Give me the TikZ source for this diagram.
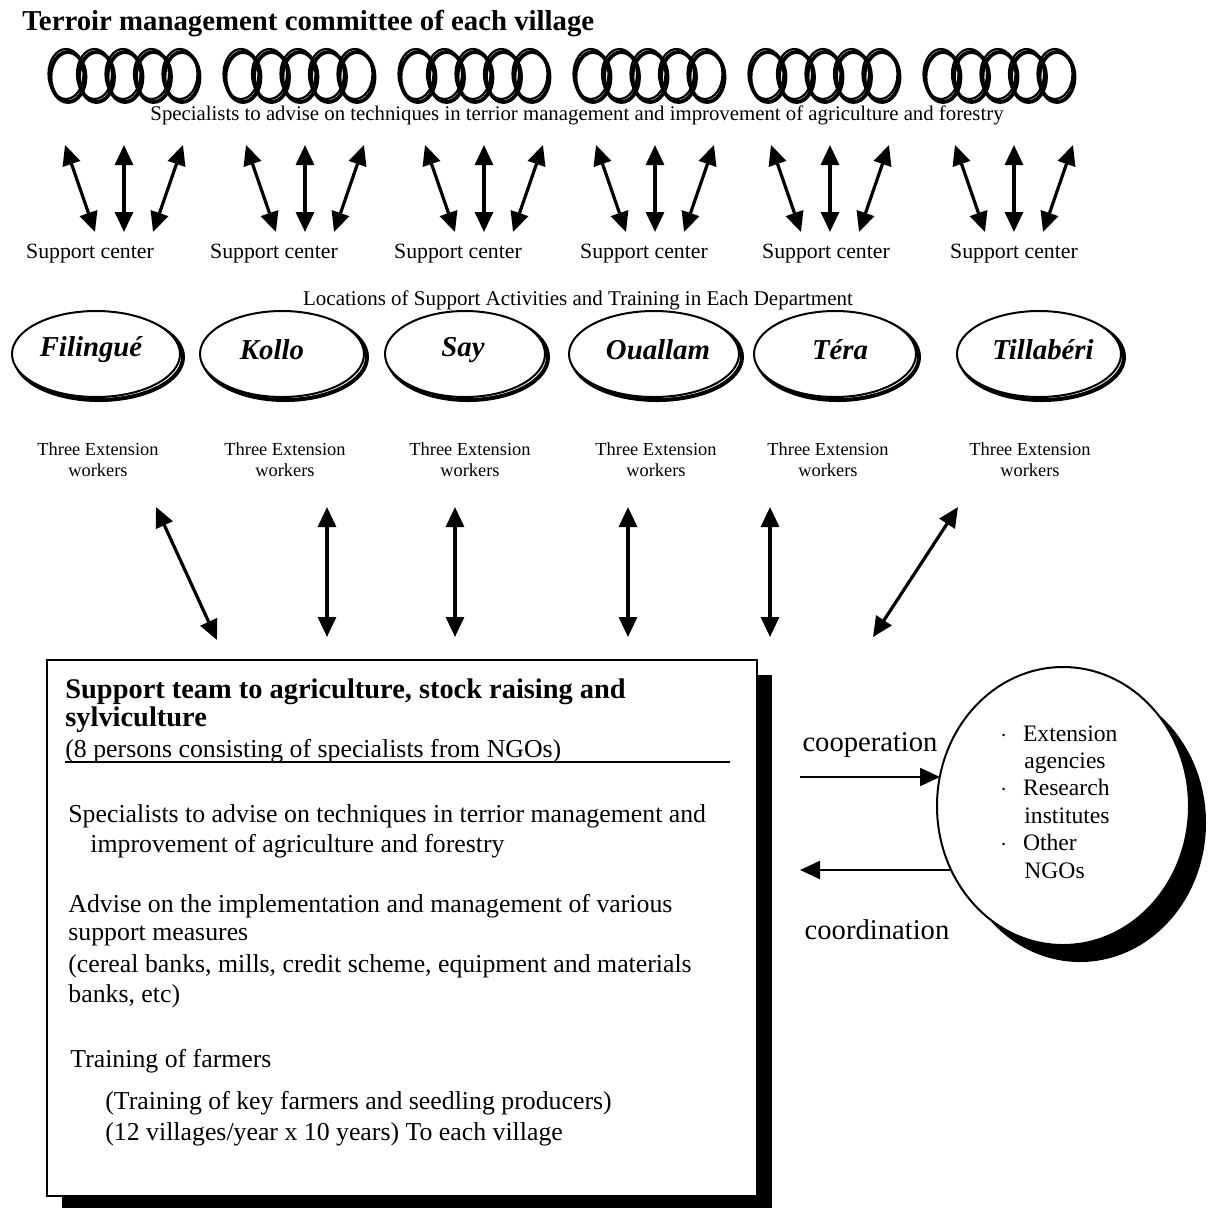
\documentclass[tikz,border=0pt]{standalone}
\usepackage{fontspec}
\setmainfont{Liberation Serif}
\usetikzlibrary{arrows.meta}
\begin{document}
\begin{tikzpicture}[x=0.5pt,y=-0.5pt,
  every node/.style={inner sep=0pt},
  txt/.style={anchor=base west,font=\fontsize{12.9}{14}\selectfont},
  btxt/.style={anchor=base west,font=\fontsize{14.2}{16}\selectfont\bfseries},
  small/.style={font=\fontsize{9.2}{10.5}\selectfont,align=center},
  dept/.style={font=\fontsize{14.4}{16}\selectfont\bfseries\itshape},
  dbl/.style={{Triangle[length=10pt,width=9pt]}-{Triangle[length=10pt,width=9pt]},line width=1.6pt},
  sgl/.style={-{Triangle[length=10pt,width=9pt]},line width=1.1pt},
  oval/.style={line width=1.1pt},
  ovalshadow/.style={line width=1.9pt}]
\useasboundingbox (0,0) rectangle (1211,1207);

% title
\node[anchor=base west,font=\fontsize{14.4}{16}\selectfont\bfseries] (title) at (22,30) {Terroir management committee of each village};

% village committees: six chains of five links
\foreach \k in {0,...,5}{
  \foreach \j in {0,...,4}{
    \pgfmathsetmacro{\cx}{66+175*\k+28.5*\j}
    \draw[ovalshadow] (\cx+2,77) ellipse [x radius=17.5,y radius=25];
    \draw[oval] (\cx,74) ellipse [x radius=17.5,y radius=25];
  }
}
\node[font=\fontsize{10.4}{12}\selectfont] (spec) at (577,115) {Specialists to advise on techniques in terrior management and improvement of agriculture and forestry};

% support centres and their links to the committees
\foreach \gx/\lx [count=\i] in {124/90,305/274,484/458,655/644,830/826,1014/1014}{
  \coordinate (lt\i) at (\gx-59,145);
  \coordinate (lb\i) at (\gx-29,232);
  \coordinate (ct\i) at (\gx,145);
  \coordinate (cb\i) at (\gx,232);
  \coordinate (rt\i) at (\gx+59,145);
  \coordinate (rb\i) at (\gx+29,232);
  \draw[dbl] (lt\i) -- (lb\i);
  \draw[dbl] (ct\i) -- (cb\i);
  \draw[dbl] (rt\i) -- (rb\i);
  \node[font=\fontsize{10.9}{12}\selectfont] (sc\i) at (\lx,254) {Support center};
}

\node[font=\fontsize{10.5}{12}\selectfont] (loc) at (578,300) {Locations of Support Activities and Training in Each Department};

% departments
\foreach \name/\cx/\rx/\nx/\wx [count=\i] in {Filingué/96/86/91/98,Kollo/282/84/272/285,Say/465/82/463/470,Ouallam/654/87/658/656,Téra/835/83/840/828,Tillabéri/1039/84/1043/1030}{
  \draw[line width=2pt] (\cx+3,357) ellipse [x radius=\rx-2,y radius=43];
  \draw[line width=1pt,fill=white] (\cx,354) ellipse [x radius=\rx-2,y radius=43];
  \node[dept] (d\i) at (\nx,350) {\name};
  \node[small] (w\i) at (\wx,460) {Three Extension\\workers};
}

% links between departments and the support team
\coordinate (a1) at (156,507); \coordinate (b1) at (217,640);
\coordinate (a2) at (327,507); \coordinate (b2) at (327,637);
\coordinate (a3) at (455,507); \coordinate (b3) at (455,637);
\coordinate (a4) at (628,507); \coordinate (b4) at (628,637);
\coordinate (a5) at (770,507); \coordinate (b5) at (770,637);
\coordinate (a6) at (958,507); \coordinate (b6) at (873,637);
\foreach \i in {1,...,6}{\draw[dbl] (a\i) -- (b\i);}

% support team box
\fill (62,675) rectangle (772,1210);
\draw[line width=1pt,fill=white] (47,660) rectangle (757,1196);
\node[btxt] (t1) at (65,698) {Support team to agriculture, stock raising and};
\node[btxt] (t2) at (65,726) {sylviculture};
\node[txt] (t3) at (65,757) {(8 persons consisting of specialists from NGOs)};
\draw[line width=0.6pt] (65,762) -- (730,762);
\node[txt] (t4) at (68,822) {Specialists to advise on techniques in terrior management and};
\node[txt] (t5) at (90,852) {improvement of agriculture and forestry};
\node[txt] (t6) at (68,912) {Advise on the implementation and management of various};
\node[txt] (t7) at (68,940) {support measures};
\node[txt] (t8) at (68,972) {(cereal banks, mills, credit scheme, equipment and materials};
\node[txt] (t9) at (68,1002) {banks, etc)};
\node[txt] (t10) at (70,1067) {Training of farmers};
\node[txt] (t11) at (105,1109) {(Training of key farmers and seedling producers)};
\node[txt] (t12) at (105,1140) {(12 villages/year x 10 years) To each village};

% partner organisations
\fill (1080,823) ellipse [x radius=126,y radius=139];
\draw[line width=1pt,fill=white] (1063,806) ellipse [x radius=126,y radius=139];
\node[anchor=north west,align=left,font=\fontsize{11.8}{13.7}\selectfont] (org) at (1000,725)
  {$\cdot$\hspace{8pt}Extension\\ \hspace{12pt}agencies\\$\cdot$\hspace{8pt}Research\\ \hspace{12pt}institutes\\$\cdot$\hspace{8pt}Other\\ \hspace{12pt}NGOs};

\coordinate (co1) at (800,777);
\coordinate (co2) at (940,777);
\coordinate (cd1) at (951,870);
\coordinate (cd2) at (800,870);
\draw[sgl] (co1) -- (co2);
\draw[sgl] (cd1) -- (cd2);
\node[font=\fontsize{14.3}{16}\selectfont] (coop) at (870,745) {cooperation};
\node[font=\fontsize{14.3}{16}\selectfont] (coord) at (877,930) {coordination};
\end{tikzpicture}
\end{document}
